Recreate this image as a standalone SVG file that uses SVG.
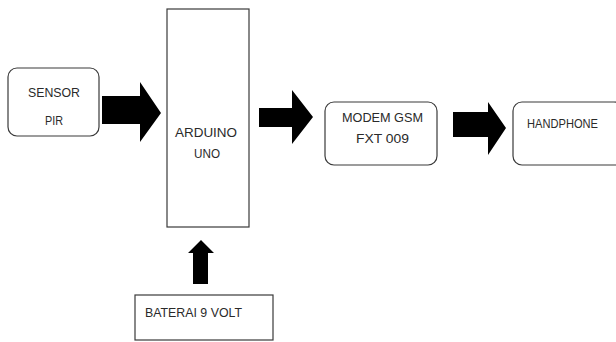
<svg xmlns="http://www.w3.org/2000/svg" width="616" height="342" viewBox="0 0 616 342">
<style>
.box{fill:#fff;stroke:#3a3a3a;stroke-width:1.2}
.t{font-family:"Liberation Sans",Arial,sans-serif;font-size:13.5px;fill:#2a2a2a}
.arr{fill:#000}
</style>
<rect width="616" height="342" fill="#fff"/>
<g id="sensor-pir">
<rect class="box" x="8" y="68" width="91" height="68" rx="9"/>
<text class="t" x="28" y="97" textLength="52" lengthAdjust="spacingAndGlyphs">SENSOR</text>
<text class="t" x="45" y="125" textLength="18" lengthAdjust="spacingAndGlyphs">PIR</text>
</g>
<g id="arduino-uno">
<rect class="box" x="167" y="9" width="82" height="218"/>
<text class="t" x="175" y="137" textLength="62" lengthAdjust="spacingAndGlyphs">ARDUINO</text>
<text class="t" x="194" y="158" textLength="26" lengthAdjust="spacingAndGlyphs">UNO</text>
</g>
<g id="modem-gsm">
<rect class="box" x="325" y="102" width="112" height="63" rx="9"/>
<text class="t" x="342" y="122" textLength="81" lengthAdjust="spacingAndGlyphs">MODEM GSM</text>
<text class="t" x="356" y="143" textLength="53" lengthAdjust="spacingAndGlyphs">FXT 009</text>
</g>
<g id="handphone">
<rect class="box" x="513" y="102" width="110" height="63" rx="9"/>
<text class="t" x="527" y="128" textLength="71" lengthAdjust="spacingAndGlyphs">HANDPHONE</text>
</g>
<g id="baterai">
<rect class="box" x="135" y="295" width="138" height="45"/>
<text class="t" x="145" y="317" textLength="97" lengthAdjust="spacingAndGlyphs">BATERAI 9 VOLT</text>
</g>
<g id="connectors">
<polygon class="arr" points="102,96 140,96 140,82 161,113 140,142 140,124 102,124"/>
<polygon class="arr" points="259,108 292,108 292,90 313,117 292,144 292,127 259,127"/>
<polygon class="arr" points="453,112 488,112 488,102 506,128 488,155 488,137 453,137"/>
<polygon class="arr" points="193,284 193,253 188,253 201,240 214,253 208,253 208,284"/>
</g>
</svg>
